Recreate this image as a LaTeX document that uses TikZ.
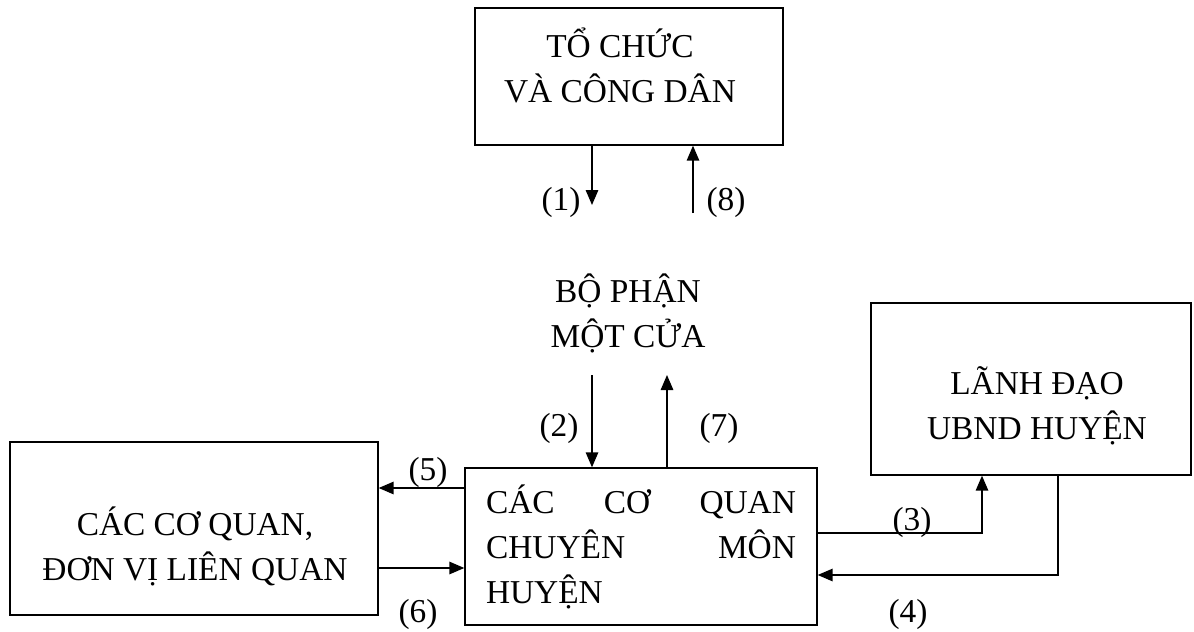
\documentclass[tikz,border=0pt]{standalone}
\usepackage{fontspec}
\setmainfont{Liberation Serif}
\usetikzlibrary{arrows.meta}

\begin{document}
\begin{tikzpicture}[x=0.02cm, y=-0.02cm,
    box/.style={draw, line width=0.8pt, inner sep=0pt},
    txt/.style={align=center, font=\fontsize{19}{25.6}\selectfont},
    num/.style={inner sep=0pt, font=\fontsize{19}{23}\selectfont},
    flow/.style={line width=0.8pt, -{Triangle[length=3mm,width=2.5mm]}}]
    \useasboundingbox (0,0) rectangle (1194,632);

    \node[box, minimum width=6.16cm, minimum height=2.74cm] (tochuc) at (629,76.5) {};
    \node[txt] (tochuc-t) at (620,65.5) {TỔ CHỨC\\VÀ CÔNG DÂN};
    \node[txt] (motcua) at (628,313) {BỘ PHẬN\\MỘT CỬA};
    \node[box, minimum width=7.04cm, minimum height=3.14cm, text width=6.2cm,
        align=left, font=\fontsize{19}{25.6}\selectfont] (coquan) at (641,546.5)
        {CÁC\hfill CƠ\hfill QUAN\\CHUYÊN\hfill MÔN\\HUYỆN};
    \node[box, minimum width=6.4cm, minimum height=3.44cm] (lanhdao) at (1031,389) {};
    \node[txt] (lanhdao-t) at (1037,405.5) {LÃNH ĐẠO\\UBND HUYỆN};
    \node[box, minimum width=7.36cm, minimum height=3.46cm] (lienquan) at (194,528.5) {};
    \node[txt] (lienquan-t) at (195,546.5) {CÁC CƠ QUAN,\\ĐƠN VỊ LIÊN QUAN};

    \coordinate (p1) at (592,205);
    \coordinate (p8) at (693,213);
    \coordinate (p2) at (592,375);
    \coordinate (p7) at (667,375);
    \coordinate (p3) at (982,533);
    \coordinate (p4) at (1058,575);
    \coordinate (p5) at (420,488);
    \coordinate (p6) at (420,568);

    \draw[flow] (tochuc.south -| p1) -- (p1);
    \draw[flow] (p8) -- (tochuc.south -| p8);
    \draw[flow] (p2) -- (coquan.north -| p2);
    \draw[flow] (coquan.north -| p7) -- (p7);
    \draw[flow] (coquan.east |- p3) -- (p3) -- (lanhdao.south -| p3);
    \draw[flow] (lanhdao.south -| p4) -- (p4) -- (coquan.east |- p4);
    \draw[flow] (coquan.west |- p5) -- (lienquan.east |- p5);
    \draw[flow] (lienquan.east |- p6) -- (coquan.west |- p6);

    \node[num] (n1) at (561,202) {(1)};
    \node[num] (n8) at (726,202) {(8)};
    \node[num] (n2) at (559,428) {(2)};
    \node[num] (n7) at (719,428) {(7)};
    \node[num] (n3) at (912,522) {(3)};
    \node[num] (n4) at (908,614) {(4)};
    \node[num] (n5) at (428,472) {(5)};
    \node[num] (n6) at (418,614) {(6)};
\end{tikzpicture}
\end{document}
